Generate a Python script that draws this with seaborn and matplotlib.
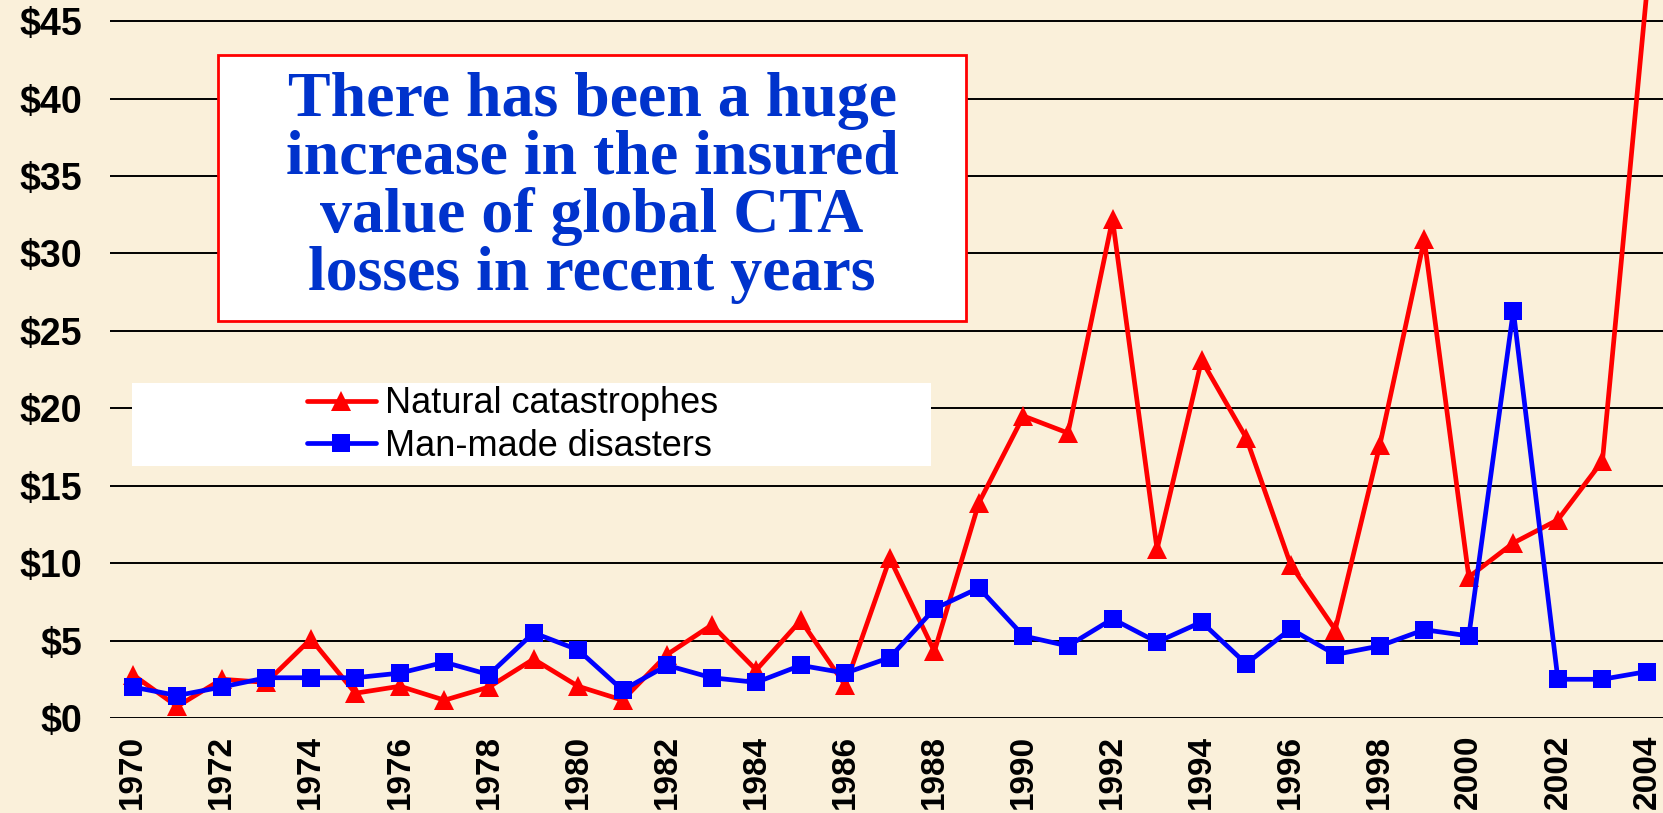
import pandas as pd
import matplotlib
matplotlib.use("Agg")
import matplotlib.pyplot as plt
from matplotlib.patches import Rectangle
from matplotlib.ticker import FuncFormatter
import seaborn as sns

years = list(range(1970, 2005))
natural = [2.8, 0.75, 2.5, 2.3, 5.1, 1.6, 2.05, 1.15, 2.0, 3.8,
           2.05, 1.15, 4.1, 6.0, 3.1, 6.3, 2.1, 10.3, 4.3, 13.9,
           19.5, 18.4, 32.2, 10.9, 23.1, 18.1, 9.9, 5.7, 17.6, 30.9,
           9.1, 11.3, 12.8, 16.6, 47.0]
manmade = [2.0, 1.45, 2.0, 2.6, 2.6, 2.6, 2.9, 3.6, 2.8, 5.5,
           4.4, 1.8, 3.4, 2.6, 2.3, 3.4, 2.9, 3.9, 7.05, 8.4,
           5.3, 4.65, 6.4, 4.9, 6.2, 3.5, 5.75, 4.1, 4.65, 5.7,
           5.3, 26.3, 2.5, 2.5, 3.0]
series_names = ["Natural catastrophes", "Man-made disasters"]
title_text = "There has been a huge\nincrease in the insured\nvalue of global CTA\nlosses in recent years"

BG = "#FAF0DA"


def main():
    sns.set_theme(style="white")
    plt.rcParams['font.family'] = ['Liberation Sans', 'DejaVu Sans']

    df = pd.DataFrame({
        "year": years * 2,
        "loss": natural + manmade,
        "kind": [series_names[0]] * len(years) + [series_names[1]] * len(years),
    })

    fig = plt.figure(figsize=(16.63, 8.13), dpi=100, facecolor=BG)
    ax = fig.add_axes([110 / 1663, 95 / 813, 1 - 110 / 1663, 1 - 95 / 813])
    ax.set_facecolor(BG)

    sns.lineplot(data=df, x="year", y="loss", hue="kind", style="kind",
                 palette={series_names[0]: "#FF0000", series_names[1]: "#0000FF"},
                 markers={series_names[0]: "^", series_names[1]: "s"},
                 dashes=False, linewidth=3.4, markersize=15, markeredgewidth=0,
                 ax=ax, legend=False)
    # squares look a bit smaller than triangles in the original
    ax.lines[1].set_markersize(12.5)

    ax.set_xlim(1969.49, 2004.36)
    ax.set_ylim(0, 46.36)
    ax.set_yticks(range(0, 50, 5))
    ax.set_xticks(range(1970, 2005, 2))
    ax.yaxis.set_major_formatter(FuncFormatter(lambda v, p: f"${int(v)}"))
    ax.grid(axis='y', color='black', linewidth=1.4)
    ax.grid(axis='x', visible=False)
    for s in ax.spines.values():
        s.set_visible(False)
    ax.tick_params(axis='y', length=0, pad=20, labelsize=27)
    ax.tick_params(axis='x', length=0, pad=12, labelsize=24, rotation=90)
    for lbl in ax.get_yticklabels() + ax.get_xticklabels():
        lbl.set_fontweight('bold')
        lbl.set_color('black')
    ax.set_xlabel("")
    ax.set_ylabel("")

    # title box
    fig.patches.append(Rectangle((218 / 1663, 1 - 321 / 813), 748 / 1663, 266 / 813,
                                 transform=fig.transFigure, facecolor='white',
                                 edgecolor='#FF0000', linewidth=2, zorder=5))
    fig.text(592 / 1663, 1 - 188 / 813, title_text, ha='center', va='center',
             color='#0033CC', fontsize=46, fontweight='bold',
             family=['Liberation Serif'], linespacing=1.0, zorder=6)

    # legend box
    fig.patches.append(Rectangle((132 / 1663, 1 - 466 / 813), 799 / 1663, 83 / 813,
                                 transform=fig.transFigure, facecolor='white',
                                 edgecolor='none', zorder=5))
    handles = ax.lines[:2]
    leg = fig.legend(handles, series_names, loc='center left',
                     bbox_to_anchor=(307 / 1663, 1 - 425 / 813),
                     frameon=False, fontsize=26, handlelength=1.9,
                     handletextpad=0.25, labelspacing=0.2, borderpad=0,
                     borderaxespad=0, labelcolor='black')
    leg.set_zorder(7)

    fig.savefig("out.png", dpi=100, facecolor=BG)
    plt.close(fig)


if __name__ == "__main__":
    main()
